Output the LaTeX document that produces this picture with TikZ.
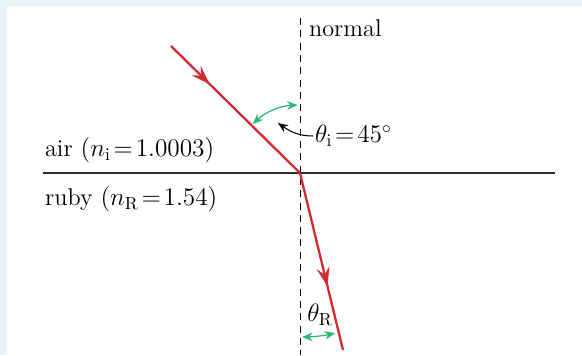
\documentclass[tikz,border=0pt]{standalone}
\usepackage{amsmath}
\usepackage{tikz}
\usetikzlibrary{arrows.meta,positioning,decorations.markings}
\definecolor{raycol}{HTML}{D12A2F}
\definecolor{anglecol}{HTML}{2BB673}
\definecolor{panelbg}{HTML}{E9F4FA}
\definecolor{surfcol}{HTML}{2E2E2E}

\begin{document}
\begin{tikzpicture}[
    font=\fontsize{13.8}{16}\selectfont,
    ray/.style={raycol, line width=1.3pt, postaction={decorate},
      decoration={markings, mark=at position #1 with {\arrow{Stealth[length=3.8mm,width=2.6mm,inset=1.4mm]}}}},
    surface/.style={surfcol, line width=1.6pt},
    normalline/.style={dashed, dash pattern=on 4pt off 3pt, line width=0.5pt},
    anglearc/.style={anglecol, line width=0.7pt, {Stealth[length=2.1mm,width=1.7mm]}-{Stealth[length=2.1mm,width=1.7mm]}},
    pointer/.style={-{Stealth[length=2mm,width=1.6mm]}, line width=0.6pt},
    lbl/.style={inner sep=1pt, anchor=west}
]

% page and panel
\fill[panelbg] (-6.0,-3.64) rectangle (5.64,3.46);
\fill[white] (-5.86,-3.64) rectangle (5.64,3.34);
\useasboundingbox (-6.0,-3.64) rectangle (5.64,3.46);

% points
\coordinate (O) at (0,0);
\coordinate (src) at (-2.58,2.54);
\coordinate (dst) at (0.86,-3.54);
\coordinate (ntop) at (0,3.1);
\coordinate (nbot) at (0,-3.64);
\coordinate (sleft) at (-5.14,0);
\coordinate (sright) at (5.1,0);

% normal and surface
\draw[normalline] (ntop) -- (nbot);
\draw[surface] (sleft) -- (sright);

% rays
\draw[ray=0.3] (src) -- (O);
\draw[ray=0.64] (O) -- (dst);

% angles
\draw[anglearc] (O) ++(134:1.36) arc[start angle=134, end angle=92, radius=1.36];
\draw[anglearc] (O) ++(-89.3:3.28) arc[start angle=-89.3, end angle=-77.6, radius=3.28];

% labels
\node[lbl] (nlabel) at (0.14,2.9) {normal};
\node[lbl] (air) at (-5.14,0.46) {air $(n_{\mathrm{i}}\!=\!1.0003)$};
\node[lbl] (ruby) at (-5.14,-0.52) {ruby $(n_{\mathrm{R}}\!=\!1.54)$};
\node[lbl] (thi) at (0.26,0.74) {$\theta_{\mathrm{i}}\!=\!45^{\circ}$};
\node (thR) at (0.4,-2.84) {$\theta_{\mathrm{R}}$};
\coordinate (thitip) at (-0.44,1.0);

\draw[pointer] (thi.west) to[out=180,in=-35] (thitip);

\end{tikzpicture}
\end{document}
